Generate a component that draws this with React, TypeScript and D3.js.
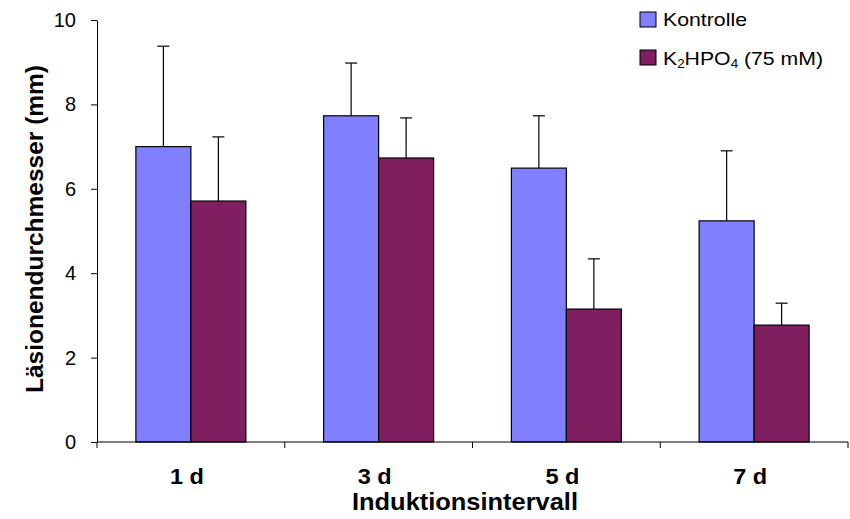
import React, { useEffect, useRef } from "react";
import * as d3 from "d3";

const categories = ["1 d", "3 d", "5 d", "7 d"];
const seriesNames = ["Kontrolle", "K2HPO4"];
const kontrolle = [7.0, 7.73, 6.49, 5.24];
const kontrolleErr = [2.38, 1.25, 1.24, 1.66];
const k2hpo4 = [5.71, 6.73, 3.15, 2.77];
const k2hpo4Err = [1.52, 0.95, 1.19, 0.52];
const yTicks = [0, 2, 4, 6, 8, 10];
const colors = ["#8080ff", "#801f5f"];

export default function App() {
  const ref = useRef<SVGSVGElement>(null);

  useEffect(() => {
    drawChart();
  }, []);

  function drawChart() {
    const svg = d3.select(ref.current);
    svg.selectAll("*").remove();

    const W = 850, H = 519;
    const margin = { top: 20, right: 2, bottom: 77, left: 97 };
    const width = W - margin.left - margin.right;
    const height = H - margin.top - margin.bottom;
    const font = "Liberation Sans, Arial, sans-serif";

    const g = svg.append("g").attr("transform", `translate(${margin.left},${margin.top})`);

    const x0 = d3.scaleBand().domain(categories).range([0, width]).paddingInner(0).paddingOuter(0);
    const x1 = d3.scaleBand().domain(seriesNames).range([0, x0.bandwidth()]).paddingInner(0).paddingOuter(0.707);
    const y = d3.scaleLinear().domain([0, 10]).range([height, 0]);

    const data = categories.map((c, i) => ({
      cat: c,
      vals: [
        { s: seriesNames[0], v: kontrolle[i], e: kontrolleErr[i], color: colors[0] },
        { s: seriesNames[1], v: k2hpo4[i], e: k2hpo4Err[i], color: colors[1] },
      ],
    }));

    const groups = g
      .selectAll(".grp")
      .data(data)
      .enter()
      .append("g")
      .attr("transform", (d) => `translate(${x0(d.cat)},0)`);

    // error bars (upward only)
    groups.each(function (d) {
      const gg = d3.select(this);
      d.vals.forEach((b) => {
        const cx = (x1(b.s) as number) + x1.bandwidth() / 2;
        gg.append("line")
          .attr("x1", cx).attr("x2", cx)
          .attr("y1", y(b.v)).attr("y2", y(b.v + b.e))
          .attr("stroke", "#000").attr("stroke-width", 1.2);
        gg.append("line")
          .attr("x1", cx - 6).attr("x2", cx + 6)
          .attr("y1", y(b.v + b.e)).attr("y2", y(b.v + b.e))
          .attr("stroke", "#000").attr("stroke-width", 1.2);
      });
    });

    groups
      .selectAll("rect")
      .data((d) => d.vals)
      .enter()
      .append("rect")
      .attr("x", (d) => x1(d.s) as number)
      .attr("y", (d) => y(d.v))
      .attr("width", x1.bandwidth())
      .attr("height", (d) => height - y(d.v))
      .attr("fill", (d) => d.color)
      .attr("stroke", "#000")
      .attr("stroke-width", 1.2);

    // y axis
    const yAxis = g.append("g").call(d3.axisLeft(y).tickValues(yTicks).tickSize(6).tickSizeOuter(0).tickPadding(15));
    yAxis.select(".domain").attr("stroke", "#000");
    yAxis.selectAll("text").attr("font-family", font).attr("font-size", 20).attr("fill", "#000");

    // x axis
    const xAxisG = g.append("g").attr("transform", `translate(0,${height})`);
    xAxisG.append("line").attr("x1", 0).attr("x2", width).attr("y1", 0).attr("y2", 0).attr("stroke", "#000");
    const bounds = [...categories.map((c) => x0(c) as number), width];
    xAxisG
      .selectAll(".xt")
      .data(bounds)
      .enter()
      .append("line")
      .attr("x1", (d) => d).attr("x2", (d) => d)
      .attr("y1", 0).attr("y2", 6)
      .attr("stroke", "#000");
    xAxisG
      .selectAll(".xl")
      .data(categories)
      .enter()
      .append("text")
      .attr("x", (d) => (x0(d) as number) + x0.bandwidth() / 2 - 4)
      .attr("y", 42)
      .attr("text-anchor", "middle")
      .attr("font-family", font)
      .attr("font-weight", "bold")
      .attr("font-size", 22)
      .attr("textLength", 34)
      .attr("lengthAdjust", "spacingAndGlyphs")
      .text((d) => d);

    svg.append("text")
      .attr("x", 465)
      .attr("y", 510)
      .attr("text-anchor", "middle")
      .attr("font-family", font)
      .attr("font-weight", "bold")
      .attr("font-size", 24)
      .attr("textLength", 226)
      .attr("lengthAdjust", "spacingAndGlyphs")
      .text("Induktionsintervall");

    svg.append("text")
      .attr("transform", `translate(43,229) rotate(-90)`)
      .attr("text-anchor", "middle")
      .attr("font-family", font)
      .attr("font-weight", "bold")
      .attr("font-size", 23)
      .attr("textLength", 328)
      .attr("lengthAdjust", "spacingAndGlyphs")
      .text("Läsionendurchmesser (mm)");

    // legend
    const leg = svg.append("g").attr("transform", "translate(640,12)");
    leg.append("rect").attr("x", 0).attr("y", 0).attr("width", 16).attr("height", 15)
      .attr("fill", colors[0]).attr("stroke", "#000");
    leg.append("text").attr("x", 23).attr("y", 14).attr("font-family", font).attr("font-size", 19)
      .attr("textLength", 84).attr("lengthAdjust", "spacingAndGlyphs").text("Kontrolle");
    leg.append("rect").attr("x", 0).attr("y", 38).attr("width", 16).attr("height", 15)
      .attr("fill", colors[1]).attr("stroke", "#000");
    const t2 = leg.append("text").attr("x", 23).attr("y", 53).attr("font-family", font).attr("font-size", 19)
      .attr("textLength", 160).attr("lengthAdjust", "spacingAndGlyphs");
    t2.append("tspan").text("K");
    t2.append("tspan").attr("font-size", 12).attr("dy", 3).text("2");
    t2.append("tspan").attr("dy", -3).text("HPO");
    t2.append("tspan").attr("font-size", 12).attr("dy", 3).text("4");
    t2.append("tspan").attr("dy", -3).text(" (75 mM)");
  }

  return (
    <svg
      ref={ref}
      width={850}
      height={519}
      style={{ position: "absolute", left: 0, top: 0, background: "#fff" }}
    />
  );
}
